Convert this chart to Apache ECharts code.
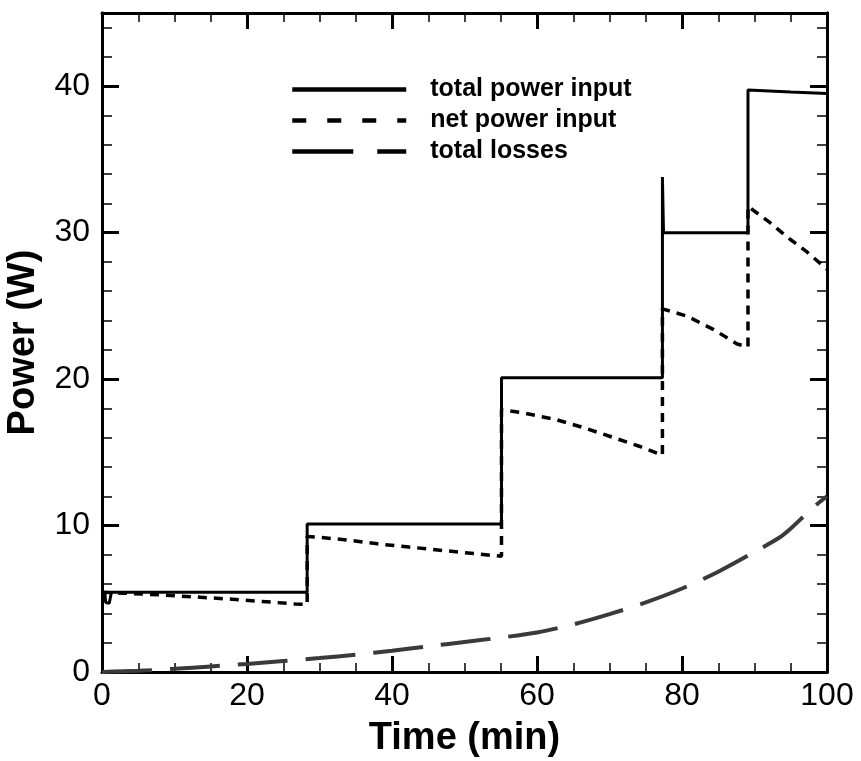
<!DOCTYPE html>
<html>
<head>
<meta charset="utf-8">
<script src="https://cdn.jsdelivr.net/npm/echarts@6/dist/echarts.min.js"></script>
<style>html,body{margin:0;padding:0;background:#fff}#c{width:861px;height:761px}</style>
</head>
<body>
<div id="c"></div>
<script>
// ---- data ----
const seriesNames = ['total power input', 'net power input', 'total losses'];
const xTicks = [0, 20, 40, 60, 80, 100];
const yTicks = [0, 10, 20, 30, 40];

const totalT = [0, 0.4, 0.5, 1.0, 1.3, 10, 20, 28.3, 28.3, 40, 55.1, 55.1, 66, 77.3, 77.3, 77.45, 83, 89.1, 89.1, 95, 100];
const totalP = [5.45, 5.4, 4.75, 4.7, 5.45, 5.45, 5.45, 5.45, 10.1, 10.1, 10.1, 20.1, 20.1, 20.1, 33.8, 30.0, 30.0, 30.0, 39.75, 39.6, 39.5];

const netT = [0, 3, 8, 13, 17, 22, 26.6, 28.3, 28.3, 30, 34, 38, 42, 46, 50, 55.1, 55.1, 58, 62.5, 66, 70, 74.2, 77.3, 77.3, 80.7, 84.3, 87.6, 89.1, 89.1, 92.1, 94.9, 97.2, 100];
const netP = [5.45, 5.38, 5.27, 5.12, 5.0, 4.82, 4.65, 4.62, 9.25, 9.2, 9.0, 8.75, 8.55, 8.35, 8.15, 7.9, 17.9, 17.7, 17.25, 16.75, 16.1, 15.4, 14.8, 24.8, 24.3, 23.4, 22.4, 22.2, 31.8, 30.7, 29.55, 28.7, 27.5];

const lossT = [0, 5, 10, 15, 20, 25, 30, 35, 40, 45, 50, 55, 60, 65, 70, 75, 80, 85, 90, 93.5, 95, 98, 100];
const lossP = [0, 0.08, 0.22, 0.38, 0.55, 0.75, 0.95, 1.18, 1.45, 1.75, 2.05, 2.35, 2.7, 3.25, 3.95, 4.75, 5.7, 6.85, 8.2, 9.2, 9.8, 11.2, 12.0];

const pairs = (t, v) => t.map((x, i) => [x, v[i]]);

const FONT = 'Liberation Sans';
const chart = echarts.init(document.getElementById('c'), null, {renderer: 'canvas'});

function xAx(pos, labels) {
  return {
    type: 'value', position: pos, min: 0, max: 100, interval: 20,
    axisLine: {show: true, onZero: false, lineStyle: {color: '#000', width: 3}},
    axisTick: {show: true, inside: true, length: 16, lineStyle: {color: '#000', width: 3}},
    minorTick: {show: true, splitNumber: 4, length: 9, lineStyle: {color: '#000', width: 1.5}},
    splitLine: {show: false}, minorSplitLine: {show: false},
    axisLabel: {show: labels, fontSize: 32, color: '#000', fontFamily: FONT, margin: 8,
      formatter: v => xTicks.includes(v) ? String(v) : ''},
    name: labels ? 'Time (min)' : '', nameLocation: 'middle', nameGap: 48,
    nameTextStyle: {fontSize: 38, fontWeight: 'bold', color: '#000', fontFamily: FONT}
  };
}
function yAx(pos, major, labels) {
  return {
    type: 'value', position: pos, min: 0, max: 45, interval: major ? 10 : 2,
    axisLine: {show: true, onZero: false, lineStyle: {color: '#000', width: 3}},
    axisTick: {show: true, inside: true, length: major ? 17 : 10, lineStyle: {color: '#000', width: major ? 3 : 1.5}},
    splitLine: {show: false},
    axisLabel: {show: labels, fontSize: 32, color: '#000', fontFamily: FONT, margin: 12,
      formatter: v => yTicks.includes(v) ? String(v) : ''},
    name: labels ? 'Power (W)' : '', nameLocation: 'middle', nameGap: 59, nameMoveOverlap: false,
    nameTextStyle: {fontSize: 38, fontWeight: 'bold', color: '#000', fontFamily: FONT}
  };
}

const hiddenSym = {opacity: 0, color: 'transparent', borderWidth: 0};

chart.setOption({
  animation: false,
  backgroundColor: '#fff',
  grid: {left: 102, right: 34, top: 13, bottom: 89, containLabel: false, outerBoundsMode: 'none'},
  legend: {
    orient: 'vertical', left: 290, top: 77, padding: 0,
    itemWidth: 114, itemHeight: 24, itemGap: 6,
    itemStyle: hiddenSym,
    textStyle: {fontSize: 25, fontWeight: 'bold', color: '#000', fontFamily: FONT, padding: [0, 0, 0, 19]},
    data: [
      {name: seriesNames[0], itemStyle: hiddenSym, lineStyle: {width: 4.5, type: 'solid', color: '#000'}},
      {name: seriesNames[1], itemStyle: hiddenSym, lineStyle: {width: 4.5, type: [14, 21], color: '#000'}},
      {name: seriesNames[2], itemStyle: hiddenSym, lineStyle: {width: 4.5, type: [61, 24], color: '#000'}}
    ]
  },
  xAxis: [xAx('bottom', true), xAx('top', false)],
  yAxis: [yAx('left', true, true), yAx('left', false, false), yAx('right', true, false), yAx('right', false, false)],
  series: [
    {name: seriesNames[0], type: 'line', symbol: 'none', xAxisIndex: 0, yAxisIndex: 0,
      data: pairs(totalT, totalP), itemStyle: {color: '#000'}, lineStyle: {color: '#000', width: 3}, z: 3},
    {name: seriesNames[1], type: 'line', symbol: 'none', xAxisIndex: 0, yAxisIndex: 0,
      data: pairs(netT, netP), itemStyle: {color: '#000'}, lineStyle: {color: '#000', width: 3.5, type: [9, 7]}, z: 2},
    {name: seriesNames[2], type: 'line', symbol: 'none', xAxisIndex: 0, yAxisIndex: 0, smooth: 0.3,
      data: pairs(lossT, lossP), itemStyle: {color: '#3a3a3a'}, lineStyle: {color: '#3a3a3a', width: 4, type: [50, 18]}, z: 2}
  ]
});
</script>
</body>
</html>
